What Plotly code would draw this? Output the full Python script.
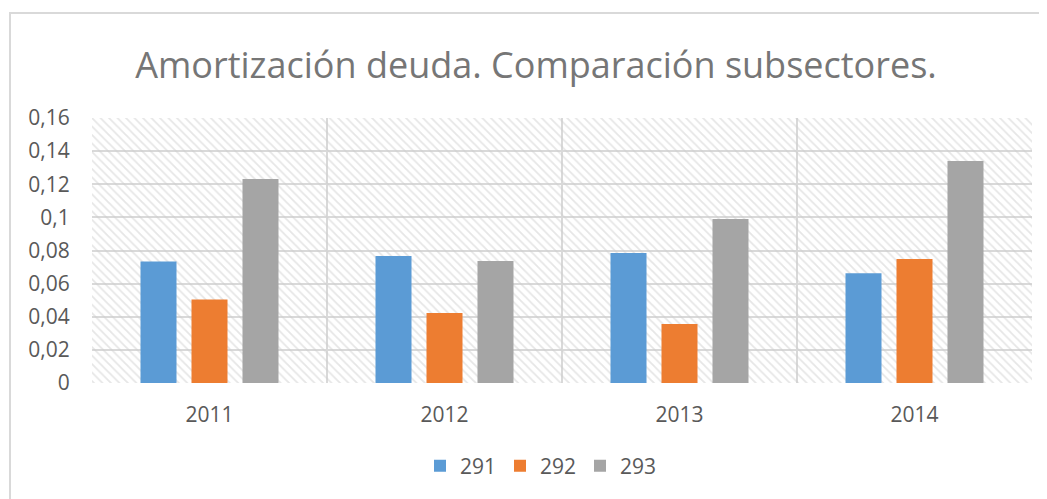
import plotly.graph_objects as go

years = ["2011", "2012", "2013", "2014"]
s291 = [0.0734, 0.0767, 0.0785, 0.0662]
s292 = [0.0504, 0.0423, 0.0356, 0.0749]
s293 = [0.1232, 0.0737, 0.0990, 0.1340]
series_names = ["291", "292", "293"]
colors = ["#5b9bd5", "#ed7d31", "#a5a5a5"]
y_ticks = [0, 0.02, 0.04, 0.06, 0.08, 0.1, 0.12, 0.14, 0.16]
y_tick_labels = ["0", "0,02", "0,04", "0,06", "0,08", "0,1", "0,12", "0,14", "0,16"]

W, H = 1039, 491
L, R, T, B = 84, 15, 110, 116
PW, PH = W - L - R, H - T - B

fig = go.Figure()

# hatched plot-area background on the hidden linear axis
fig.add_trace(go.Bar(
    x=[len(years) / 2], y=[max(y_ticks)], width=[len(years)],
    xaxis="x", yaxis="y",
    marker=dict(color="rgba(0,0,0,0)", line=dict(width=0),
                pattern=dict(shape="\\", fgcolor="#cdcdcd", size=6, solidity=0.3,
                             fillmode="overlay")),
    showlegend=False, hoverinfo="skip",
))

for name, vals, col in zip(series_names, [s291, s292, s293], colors):
    fig.add_trace(go.Bar(x=years, y=vals, name=name, marker_color=col,
                         marker_line_width=0, xaxis="x2", yaxis="y"))

tick_font = dict(size=21, color="#595959", family="Open Sans")

fig.update_layout(
    width=W, height=H,
    margin=dict(l=L, r=R, t=T, b=B),
    paper_bgcolor="white", plot_bgcolor="white",
    barmode="group", bargap=0.349, bargroupgap=0.294,
    font=dict(family="Open Sans", color="#595959", size=21),
    title=dict(text="Amortización deuda. Comparación subsectores.",
               x=528 / W, xanchor="center", y=1 - 57 / H, yanchor="middle",
               font=dict(size=36, color="#767676", family="Open Sans")),
    xaxis=dict(range=[0, len(years)], tickvals=list(range(len(years) + 1)),
               showticklabels=False, showgrid=True, gridcolor="#d9d9d9", gridwidth=2,
               zeroline=False, showline=False, fixedrange=True),
    xaxis2=dict(overlaying="x", side="bottom", type="category", showgrid=False,
                ticks="outside", ticklen=13, tickcolor="rgba(0,0,0,0)",
                tickfont=tick_font, showline=False, zeroline=False),
    yaxis=dict(range=[0, max(y_ticks)], tickvals=y_ticks, ticktext=y_tick_labels,
               showgrid=True, gridcolor="#d9d9d9", gridwidth=2, zeroline=False,
               ticks="outside", ticklen=17, tickcolor="rgba(0,0,0,0)",
               tickfont=tick_font),
    legend=dict(orientation="h", x=(532 - L) / PW, xanchor="center",
                y=(T + PH - 458) / PH, yanchor="middle",
                font=tick_font, itemwidth=30, traceorder="normal",
                entrywidth=35, entrywidthmode="pixels"),
    shapes=[
        dict(type="rect", xref="paper", yref="paper", x0=(2 - L) / PW, x1=1.2,
             y0=-0.6, y1=(T + PH - 5) / PH, line=dict(color="#d9d9d9", width=2),
             fillcolor="rgba(0,0,0,0)", layer="below"),
    ],
)

fig.write_html("out.html")
